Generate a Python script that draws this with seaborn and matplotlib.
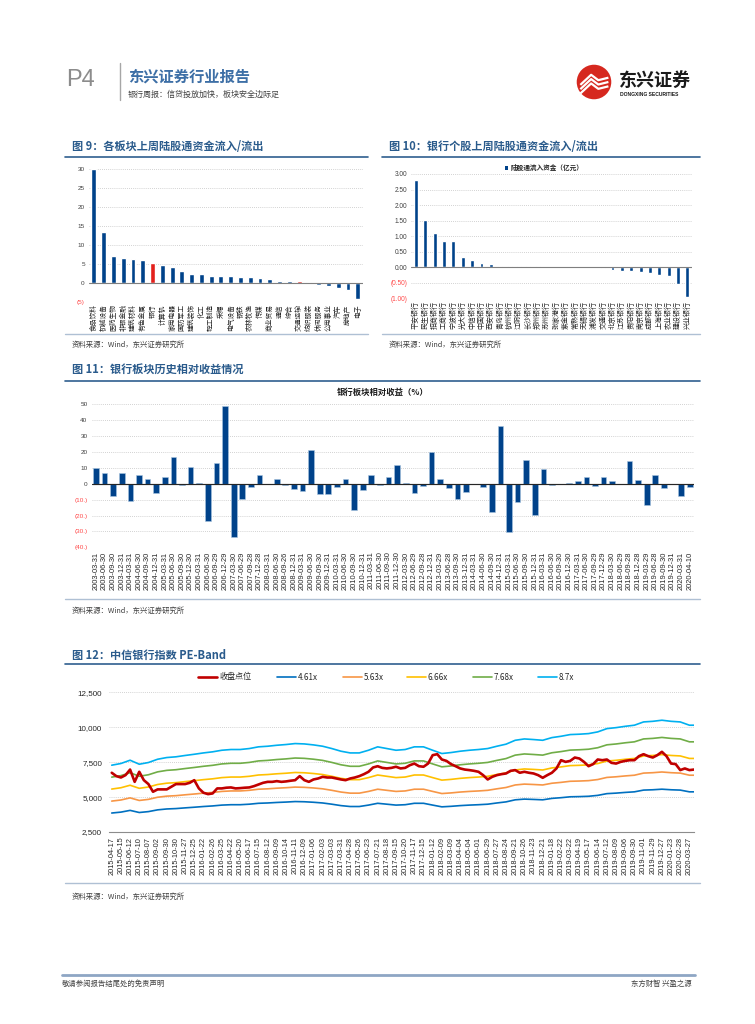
import matplotlib
matplotlib.use('Agg')
import matplotlib.pyplot as plt
from matplotlib.lines import Line2D
from matplotlib.patches import Circle, Rectangle
import seaborn as sns
import numpy as np

W, H = 755, 1024
BLUE = '#00428A'
RED_BAR = '#E3211C'
NEG_RED = '#FF4A4A'
TITLE_BLUE = '#2A5B8C'
GRID = '#C4C4C4'
NUM_FONT = ['Liberation Sans', 'DejaVu Sans']

# ---- Figure 9: sector northbound flows (100m CNY) ----
sector_names = ['食品饮料', '机械设备', '医药生物', '非银金融', '建筑材料', '有色金属', '银行',
                '计算机', '家用电器', '国防军工', '建筑装饰', '化工', '轻工制造', '采掘',
                '电气设备', '钢铁', '农林牧渔', '传媒', '商业贸易', '通信', '综合',
                '交通运输', '纺织服装', '休闲服务', '公用事业', '汽车', '房地产', '电子']
sector_flows = [30.0, 13.3, 7.2, 6.5, 6.3, 6.0, 5.2, 4.7, 4.2, 3.2, 2.2, 2.2, 1.8, 1.8,
                1.8, 1.6, 1.6, 1.3, 1.1, 0.6, 0.5, 0.4, 0.3, -0.7, -0.9, -1.4, -1.9, -4.2]
sector_highlight = ['银行', '交通运输']
sector_ticks = [30, 25, 20, 15, 10, 5, 0, -5]
sector_tick_labels = ['30', '25', '20', '15', '10', '5', '0', '(5)']

# ---- Figure 10: bank stock northbound flows ----
bank_names = ['平安银行', '民生银行', '招商银行', '工商银行', '宁波银行', '光大银行', '中信银行',
              '中国银行', '西安银行', '青岛银行', '杭州银行', '江阴银行', '长沙银行', '郑州银行',
              '苏州银行', '张家港行', '紫金银行', '常熟银行', '无锡银行', '浦发银行', '交通银行',
              '北京银行', '江苏银行', '贵阳银行', '南京银行', '成都银行', '上海银行', '农业银行',
              '建设银行', '兴业银行']
bank_flows = [2.80, 1.52, 1.10, 0.84, 0.83, 0.32, 0.22, 0.13, 0.10, 0.05, 0.03, 0.03, 0.03,
              0.03, 0.02, 0.02, 0.02, 0.02, 0.02, 0.01, -0.02, -0.10, -0.12, -0.12, -0.16,
              -0.18, -0.25, -0.29, -0.54, -0.96]
bank_ticks = [3.0, 2.5, 2.0, 1.5, 1.0, 0.5, 0.0, -0.5, -1.0]
bank_tick_labels = ['3.00', '2.50', '2.00', '1.50', '1.00', '0.50', '0.00', '(0.50)', '(1.00)']

# ---- Figure 11: bank sector relative return by quarter (%) ----
quarter_labels = [
    '2003-03-31', '2003-06-30', '2003-09-30', '2003-12-31', '2004-03-31', '2004-06-30',
    '2004-09-30', '2004-12-31', '2005-03-31', '2005-06-30', '2005-09-30', '2005-12-30',
    '2006-03-31', '2006-06-30', '2006-09-29', '2006-12-29', '2007-03-30', '2007-06-29',
    '2007-09-28', '2007-12-28', '2008-03-31', '2008-06-30', '2008-09-26', '2008-12-31',
    '2009-03-31', '2009-06-30', '2009-09-30', '2009-12-31', '2010-03-31', '2010-06-30',
    '2010-09-30', '2010-12-31', '2011-03-31', '2011-06-30', '2011-09-30', '2011-12-30',
    '2012-03-30', '2012-06-29', '2012-09-28', '2012-12-31', '2013-03-29', '2013-06-28',
    '2013-09-30', '2013-12-31', '2014-03-31', '2014-06-30', '2014-09-30', '2014-12-31',
    '2015-03-31', '2015-06-30', '2015-09-30', '2015-12-31', '2016-03-31', '2016-06-30',
    '2016-09-30', '2016-12-30', '2017-03-31', '2017-06-30', '2017-09-29', '2017-12-29',
    '2018-03-30', '2018-06-29', '2018-09-28', '2018-12-28', '2019-03-29', '2019-06-28',
    '2019-09-30', '2019-12-31', '2020-03-31', '2020-04-10']
relative_return = [
    10.0, 7.0, -7.7, 7.0, -10.6, 5.8, 2.9, -5.6, 4.2, 16.9, -0.5, 10.4,
    0.5, -23.3, 13.1, 48.7, -33.5, -9.8, -2.1, 5.4, -0.3, 2.7, -0.8, -3.5,
    -4.8, 21.5, -6.5, -6.5, -1.9, 2.9, -16.5, -4.2, 5.5, -0.6, 4.4, 11.7,
    0.3, -5.6, -1.7, 19.8, 3.3, -2.7, -9.4, -5.0, -0.3, -2.3, -17.7, 36.5,
    -30.4, -11.7, 15.2, -19.4, 9.4, -0.5, -0.2, 0.2, 1.5, 4.4, -1.7, 4.0,
    1.5, -0.3, 14.0, 2.1, -13.5, 5.8, -2.5, -0.3, -7.7, -2.1]
return_ticks = [50, 40, 30, 20, 10, 0, -10, -20, -30, -40]
return_tick_labels = ['50', '40', '30', '20', '10', '0', '(10.)', '(20.)', '(30.)', '(40.)']

# ---- Figure 12: CITIC bank index PE band ----
pe_tick_labels = [
    '2015-04-17', '2015-05-15', '2015-06-12', '2015-07-10', '2015-08-07', '2015-09-02',
    '2015-09-30', '2015-10-30', '2015-11-27', '2015-12-25', '2016-01-22', '2016-02-26',
    '2016-03-25', '2016-04-22', '2016-05-20', '2016-06-17', '2016-07-15', '2016-08-12',
    '2016-09-09', '2016-10-14', '2016-11-11', '2016-12-09', '2017-01-06', '2017-02-03',
    '2017-03-03', '2017-03-31', '2017-04-28', '2017-05-26', '2017-06-23', '2017-07-21',
    '2017-08-18', '2017-09-15', '2017-10-20', '2017-11-17', '2017-12-15', '2018-01-12',
    '2018-02-09', '2018-03-09', '2018-04-04', '2018-05-04', '2018-06-01', '2018-06-29',
    '2018-07-27', '2018-08-24', '2018-09-21', '2018-10-26', '2018-11-23', '2018-12-21',
    '2019-01-18', '2019-02-22', '2019-03-22', '2019-04-19', '2019-05-17', '2019-06-14',
    '2019-07-12', '2019-08-09', '2019-09-06', '2019-09-30', '2019-11-01', '2019-11-29',
    '2019-12-27', '2020-01-23', '2020-02-28', '2020-03-27']
# index EPS read every 4 weeks (last value two weeks after the last tick)
index_eps = [837, 851, 878, 845, 859, 886, 900, 906, 917, 927,
             938, 947, 960, 966, 966, 974, 988, 993, 1001, 1007,
             1015, 1012, 1004, 993, 974, 952, 938, 938, 960, 988,
             974, 960, 966, 988, 988, 960, 933, 941, 952, 960,
             966, 974, 993, 1010, 1042, 1053, 1048, 1042, 1064, 1075,
             1089, 1092, 1097, 1111, 1138, 1146, 1157, 1166, 1193, 1198,
             1207, 1198, 1193, 1166, 1166]
pe_multiples = [4.61, 5.63, 6.66, 7.68, 8.7]
pe_band_labels = ['4.61x', '5.63x', '6.66x', '7.68x', '8.7x']
# close every 2 weeks
index_close = [
    6740, 6500, 6400, 6570, 6970, 6090, 6810, 6210, 5930, 5380,
    5550, 5550, 5550, 5740, 5930, 5930, 5930, 6020, 6210, 5620,
    5310, 5210, 5260, 5620, 5620, 5670, 5690, 5620, 5640, 5670,
    5690, 5780, 5900, 6020, 6090, 6090, 6140, 6090, 6120, 6170,
    6210, 6500, 6210, 6090, 6260, 6330, 6450, 6400, 6400, 6330,
    6260, 6210, 6330, 6400, 6500, 6640, 6810, 7120, 7210, 7090,
    7050, 7090, 7170, 7050, 7090, 7280, 7400, 7210, 7170, 7400,
    8000, 8070, 7690, 7590, 7360, 7210, 7050, 6970, 6930, 6880,
    6810, 6570, 6260, 6450, 6570, 6640, 6690, 6880, 6930, 6740,
    6810, 6740, 6690, 6570, 6380, 6570, 6740, 7050, 7640, 7520,
    7590, 7830, 7760, 7520, 7210, 7360, 7690, 7640, 7690, 7450,
    7400, 7520, 7590, 7640, 7640, 7930, 8070, 7930, 7830, 8000,
    8240, 7930, 7400, 7360, 6930, 7050, 6930, 6970]
pe_ticks = [2500, 5000, 7500, 10000, 12500]
pe_tick_text = ['2,500', '5,000', '7,500', '10,000', '12,500']


def px_axes(fig, x0, y0, x1, y1):
    return fig.add_axes([x0 / W, 1 - y1 / H, (x1 - x0) / W, (y1 - y0) / H])


def ftext(fig, x, y, s, **kw):
    kw.setdefault('va', 'center')
    fig.text(x / W, 1 - y / H, s, **kw)


def fline(fig, x0, x1, y0, y1, color, lw):
    fig.add_artist(Line2D([x0 / W, x1 / W], [1 - y0 / H, 1 - y1 / H],
                          transform=fig.transFigure, color=color, lw=lw))


def style_value_axis(ax, ticks, labels, size):
    ax.set_yticks(ticks)
    ax.set_yticklabels(labels, fontsize=size, family=NUM_FONT)
    for lab, v in zip(ax.get_yticklabels(), ticks):
        lab.set_color(NEG_RED if v < 0 else '#404040')
    ax.yaxis.grid(True, color=GRID, linestyle=(0, (1, 1.5)), linewidth=0.6)
    ax.xaxis.grid(False)
    ax.set_axisbelow(True)
    sns.despine(ax=ax, left=True, bottom=True)
    ax.tick_params(axis='y', length=0, pad=3)
    ax.set_xlabel('')
    ax.set_ylabel('')
    ax.axhline(0, color='#7F7F7F', lw=0.8, zorder=1)


def section_frame(fig, title, x0, x1, y_title, y_rule, y_bottom, y_source):
    ftext(fig, x0 + 7, y_title, title, fontsize=8, fontweight='bold', color=TITLE_BLUE)
    fline(fig, x0, x1, y_rule, y_rule, '#2F5F8F', 1.2)
    fline(fig, x0, x1, y_bottom, y_bottom, '#AFC0D4', 1.0)
    ftext(fig, x0 + 7, y_source, '资料来源：Wind，东兴证券研究所', fontsize=5.3,
          color='#404040', style='italic')


sns.set_style('white')
plt.rcParams['font.family'] = ['Noto Sans CJK SC', 'DejaVu Sans']
plt.rcParams['axes.unicode_minus'] = False

fig = plt.figure(figsize=(W / 100, H / 100), dpi=100, facecolor='white')

# ---- page header ----
ftext(fig, 66, 80, 'P4', fontsize=17, color='#8C8C8C', family=NUM_FONT)
fline(fig, 120, 120, 63, 100, '#A6A6A6', 1.0)
ftext(fig, 128, 77, '东兴证券行业报告', fontsize=11, fontweight='bold', color='#3D6FA6')
ftext(fig, 128, 94, '银行周报：信贷投放加快，板块安全边际足', fontsize=5.8, color='#404040')

logo = px_axes(fig, 576, 64, 612, 100)
logo.set_xlim(0, 1)
logo.set_ylim(0, 1)
logo.set_aspect('equal')
logo.axis('off')
logo.add_patch(Circle((0.5, 0.5), 0.48, fc='#D6281F', ec='none'))
for dy in (0.0, -0.12, -0.24):
    logo.plot([0.12, 0.42, 0.62, 0.9], [0.42 + dy, 0.7 + dy, 0.55 + dy, 0.62 + dy],
              color='white', lw=1.6, solid_capstyle='butt')
ftext(fig, 619, 80, '东兴证券', fontsize=13, fontweight='bold', color='#1A1A1A')
ftext(fig, 620, 95, 'DONGXING SECURITIES', fontsize=3.6, fontweight='bold',
      color='#1A1A1A', family=NUM_FONT)

# ---- Figure 9 ----
section_frame(fig, '图 9：各板块上周陆股通资金流入/流出', 65, 368, 147, 157, 334, 345)
ax9 = px_axes(fig, 89, 169.3, 362.6, 301.7)
sector_palette = [RED_BAR if n in sector_highlight else BLUE for n in sector_names]
sns.barplot(x=sector_names, y=sector_flows, hue=sector_names, palette=sector_palette,
            legend=False, width=0.5, saturation=1, ax=ax9)
ax9.set_ylim(-5, 30)
ax9.set_xlim(-0.5, len(sector_names) - 0.5)
style_value_axis(ax9, sector_ticks, sector_tick_labels, 4.6)
ax9.tick_params(axis='x', labelrotation=90, labelsize=4.9, length=0, pad=2)

# ---- Figure 10 ----
section_frame(fig, '图 10：银行个股上周陆股通资金流入/流出', 382, 700, 147, 157, 334, 345)
ax10 = px_axes(fig, 411.3, 174, 692, 298.3)
sns.barplot(x=bank_names, y=bank_flows, color=BLUE, width=0.42, saturation=1, ax=ax10)
ax10.set_ylim(-1, 3)
ax10.set_xlim(-0.5, len(bank_names) - 0.5)
style_value_axis(ax10, bank_ticks, bank_tick_labels, 4.7)
ax10.tick_params(axis='x', labelrotation=90, labelsize=5, length=0, pad=2)
fig.add_artist(Rectangle((505 / W, 1 - 169.5 / H), 3.5 / W, 3.5 / H,
                         transform=fig.transFigure, fc=BLUE, ec='none'))
ftext(fig, 511, 167, '陆股通流入资金（亿元）', fontsize=4.8, fontweight='bold', color='#262626')

# ---- Figure 11 ----
section_frame(fig, '图 11：银行板块历史相对收益情况', 65, 700, 369, 380.5, 599, 611)
ax11 = px_axes(fig, 91.7, 404.3, 694, 547.3)
sns.barplot(x=quarter_labels, y=relative_return, color=BLUE, width=0.66, saturation=1,
            edgecolor='#A8C4E0', linewidth=0.4, ax=ax11)
ax11.set_ylim(-40, 50)
ax11.set_xlim(-0.5, len(quarter_labels) - 0.5)
style_value_axis(ax11, return_ticks, return_tick_labels, 4.6)
ax11.axhline(0, color='#262626', lw=0.8, zorder=1)
ax11.tick_params(axis='x', labelrotation=90, labelsize=5.4, length=0, pad=3)
for lab in ax11.get_xticklabels():
    lab.set_family(NUM_FONT)
ftext(fig, 383, 392, '银行板块相对收益（%）', fontsize=6, fontweight='bold',
      color='#1A1A1A', ha='center')

# ---- Figure 12 ----
section_frame(fig, '图 12：中信银行指数 PE-Band', 65, 700, 655, 664, 883, 897)
ax12 = px_axes(fig, 109, 692.3, 694, 832)
band_pos = np.append(np.arange(len(pe_tick_labels)), len(pe_tick_labels) - 0.5)
close_pos = np.arange(len(index_close)) / 2
band_colors = ['#0070C0', '#F79646', '#FFC000', '#70AD47', '#00B0F0']
eps = np.array(index_eps, dtype=float)
for mult, col in zip(pe_multiples, band_colors):
    sns.lineplot(x=band_pos, y=eps * mult, color=col, lw=1.2, ax=ax12)
sns.lineplot(x=close_pos, y=index_close, color='#C00000', lw=1.9, ax=ax12)
ax12.set_xlim(-0.3, len(pe_tick_labels) - 0.5)
ax12.set_ylim(2500, 12500)
ax12.set_yticks(pe_ticks)
ax12.set_yticklabels(pe_tick_text, fontsize=5.8, family=NUM_FONT, color='#262626')
ax12.set_xticks(np.arange(len(pe_tick_labels)))
ax12.set_xticklabels(pe_tick_labels, rotation=90, fontsize=5.3, family=NUM_FONT,
                     color='#262626')
ax12.yaxis.grid(True, color=GRID, linestyle=(0, (1, 1.5)), linewidth=0.6)
ax12.set_axisbelow(True)
sns.despine(ax=ax12, left=True)
ax12.spines['bottom'].set_color('#8C8C8C')
ax12.tick_params(axis='y', length=0, pad=5)
ax12.tick_params(axis='x', length=2, color='#8C8C8C', pad=1.5)
ax12.set_xlabel('')
ax12.set_ylabel('')

legend_items = [('收盘点位', '#C00000', 1.9, 198), (pe_band_labels[0], band_colors[0], 1.2, 277),
                (pe_band_labels[1], band_colors[1], 1.2, 343), (pe_band_labels[2], band_colors[2], 1.2, 407),
                (pe_band_labels[3], band_colors[3], 1.2, 473), (pe_band_labels[4], band_colors[4], 1.2, 538)]
for text, col, lw, x0 in legend_items:
    fline(fig, x0, x0 + 19, 677, 677, col, lw)
    ftext(fig, x0 + 21, 677, text, fontsize=5.8, color='#262626')

# ---- footer ----
fline(fig, 62, 695, 975, 975, '#8EA6C4', 2.0)
ftext(fig, 62, 984, '敬请参阅报告结尾处的免责声明', fontsize=5.3, color='#404040')
ftext(fig, 692, 984, '东方财智 兴盈之源', fontsize=5.3, color='#404040', ha='right')

fig.savefig('out.png', dpi=100)
